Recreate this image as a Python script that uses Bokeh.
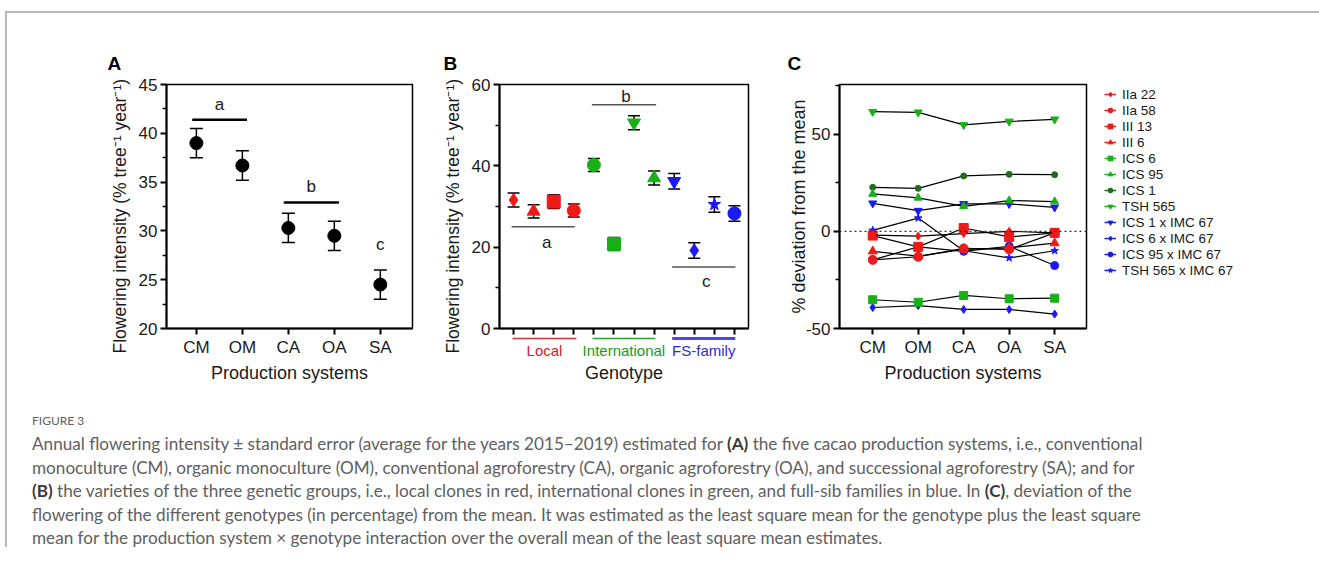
from bokeh.plotting import figure
from bokeh.models import (ColumnDataSource, Whisker, TeeHead, Span, FixedTicker,
                          Range1d, Legend, LegendItem, Div)
from bokeh.layouts import row, column
from bokeh.embed import file_html
from bokeh.resources import INLINE
from bokeh.core.properties import value

# ---------------- data ----------------
# Panel A: production systems
systems = ["CM", "OM", "CA", "OA", "SA"]
system_mean = [39.0, 36.7, 30.3, 29.5, 24.5]
system_se = [1.5, 1.5, 1.5, 1.5, 1.5]
system_letters = ["a", "b", "c"]
system_letter_x = [1.5, 3.5, 5.0]
system_letter_y = [43.0, 34.6, 28.6]
system_bar_x0 = [0.91, 2.90]
system_bar_x1 = [2.10, 4.10]
system_bar_y = [41.4, 32.9]

# Panel B: genotypes
genotypes = ["IIa 22", "III 6", "III 13", "IIa 58",
             "ICS 1", "ICS 6", "TSH 565", "ICS 95",
             "ICS 1 x IMC 67", "ICS 6 x IMC 67", "TSH 565 x IMC 67", "ICS 95 x IMC 67"]
genotype_mean = [31.6, 28.8, 31.2, 29.0, 40.2, 20.8, 50.6, 37.0, 36.2, 19.2, 30.5, 28.3]
genotype_se = [1.7, 1.6, 1.7, 1.6, 1.6, 1.6, 1.7, 1.7, 1.9, 1.9, 1.9, 1.9]
genotype_marker = ["diamond", "triangle", "square", "circle",
                   "circle", "square", "inverted_triangle", "triangle",
                   "inverted_triangle", "diamond", "star", "circle"]
genotype_group = [0, 0, 0, 0, 1, 1, 1, 1, 2, 2, 2, 2]
groups = ["Local", "International", "FS-family"]
group_x0 = [0.95, 4.93, 8.90]
group_x1 = [4.13, 8.06, 12.04]
group_letters = ["a", "b", "c"]
group_letter_x = [2.65, 6.6, 10.6]
group_letter_y = [21.2, 57.0, 11.6]
group_bar_x0 = [0.90, 4.90, 8.90]
group_bar_x1 = [4.05, 8.10, 12.05]
group_bar_y = [25.0, 55.0, 15.1]

# Panel C: % deviation from the mean per production system
dev_IIa_22 = [-2.0, -2.5, -1.2, 0.0, -0.8]
dev_IIa_58 = [-14.7, -13.1, -8.8, -9.3, -0.8]
dev_III_13 = [-2.2, -8.0, 1.7, -2.9, -0.8]
dev_III_6 = [-10.3, -12.8, -9.3, -8.5, -6.1]
dev_ICS_6 = [-35.2, -36.5, -33.0, -34.7, -34.4]
dev_ICS_95 = [19.2, 17.2, 12.8, 15.8, 15.3]
dev_ICS_1 = [22.6, 22.1, 28.5, 29.3, 29.1]
dev_TSH_565 = [61.5, 61.2, 54.7, 56.5, 57.6]
dev_ICS1xIMC67 = [14.4, 10.6, 14.1, 14.1, 12.3]
dev_ICS6xIMC67 = [-39.2, -38.2, -40.2, -40.2, -42.6]
dev_ICS95xIMC67 = [-14.7, -8.0, -10.3, -7.7, -17.6]
dev_TSH565xIMC67 = [0.5, 6.8, -10.0, -13.7, -10.0]

# ---------------- style ----------------
FONT = "Liberation Sans"
INK = "#1a1a1a"
RED, GREEN, BLUE, DKGREEN = "#ee1a1a", "#17b017", "#1a1af2", "#1d6e1d"
group_colors = [RED, GREEN, BLUE]
group_text_colors = ["#cc2229", "#1a9a1a", "#2b2bd0"]
group_line_colors = ["#d9303a", "#2ca02c", "#4a4ae0"]

FH = 244
MBT = 71
MBB = 69


def make_fig(xr, yr, mbl, fw, mbr, letter, letter_offset):
    p = figure(x_range=xr, y_range=yr, frame_width=fw, frame_height=FH,
               min_border_left=mbl, min_border_right=mbr,
               min_border_top=MBT, min_border_bottom=MBB,
               toolbar_location=None, output_backend="svg", tools="",
               title=letter)
    p.title.align = "left"
    p.title.offset = letter_offset
    p.title.standoff = 22
    p.title.text_font = FONT
    p.title.text_font_size = "19px"
    p.title.text_font_style = "bold"
    p.title.text_color = "black"
    p.xgrid.visible = False
    p.ygrid.visible = False
    p.outline_line_color = "black"
    p.outline_line_width = 1.5
    p.background_fill_color = "white"
    p.border_fill_color = "white"
    for ax in p.axis:
        ax.axis_line_width = 2
        ax.axis_line_color = "black"
        ax.major_tick_line_width = 2
        ax.major_tick_out = 6
        ax.major_tick_in = 0
        ax.minor_tick_line_width = 1.5
        ax.minor_tick_out = 4
        ax.minor_tick_in = 0
        ax.major_label_text_font = FONT
        ax.major_label_text_font_size = "17px"
        ax.major_label_text_color = INK
        ax.major_label_standoff = 3
        ax.axis_label_text_font = FONT
        ax.axis_label_text_font_size = "18px"
        ax.axis_label_text_font_style = "normal"
        ax.axis_label_text_color = INK
    for ax in p.yaxis:
        ax.axis_label_text_font_size = "17.5px"
    return p


# trailing no-break spaces nudge the rotated title down, as in the original figure
YLAB = "Flowering intensity (% tree\u207b\u00b9 year\u207b\u00b9)" + "\u00a0" * 4

# ---------------- Panel A ----------------
xa = list(range(1, len(systems) + 1))
pA = make_fig(Range1d(0.35, 5.70), Range1d(20, 45), 159, 246, 8, "A", -59)
pA.xaxis.ticker = FixedTicker(ticks=xa)
pA.xaxis.major_label_overrides = {i: s for i, s in zip(xa, systems)}
pA.yaxis.ticker = FixedTicker(ticks=[20, 25, 30, 35, 40, 45],
                              minor_ticks=[22.5, 27.5, 32.5, 37.5, 42.5])
pA.xaxis.axis_label = "Production systems"
pA.yaxis.axis_label = YLAB
pA.xaxis.axis_label_standoff = 3
pA.yaxis.axis_label_standoff = 6
srcA = ColumnDataSource(dict(x=xa, y=system_mean,
                             lo=[m - s for m, s in zip(system_mean, system_se)],
                             hi=[m + s for m, s in zip(system_mean, system_se)]))
pA.add_layout(Whisker(source=srcA, base="x", lower="lo", upper="hi", line_width=1.5,
                      line_color="black", level="underlay",
                      upper_head=TeeHead(size=13, line_width=1.5, line_color="black"),
                      lower_head=TeeHead(size=13, line_width=1.5, line_color="black")))
pA.scatter("x", "y", source=srcA, marker="circle", size=13, color="black")
pA.segment(x0=system_bar_x0, x1=system_bar_x1, y0=system_bar_y, y1=system_bar_y,
           line_color="black", line_width=2.5)
pA.text(x=system_letter_x, y=system_letter_y, text=system_letters, text_font=value(FONT),
        text_font_size="17px", text_align="center", text_baseline="middle", text_color=INK)

# ---------------- Panel B ----------------
xb = list(range(1, len(genotypes) + 1))
pB = make_fig(Range1d(0.30, 12.70), Range1d(0, 60), 79, 249, 14, "B", -56)
pB.xaxis.ticker = FixedTicker(ticks=xb)
pB.xaxis.major_label_overrides = {i: "" for i in xb}
pB.xaxis.major_label_text_font_size = "0px"
pB.xaxis.major_label_standoff = 0
pB.xaxis.axis_label = "Genotype"
pB.xaxis.axis_label_standoff = 28
pB.yaxis.ticker = FixedTicker(ticks=[0, 20, 40, 60], minor_ticks=[10, 30, 50])
pB.yaxis.axis_label = YLAB
pB.yaxis.axis_label_standoff = 6
srcB = ColumnDataSource(dict(x=xb, y=genotype_mean, marker=genotype_marker,
                             color=[group_colors[g] for g in genotype_group],
                             lo=[m - s for m, s in zip(genotype_mean, genotype_se)],
                             hi=[m + s for m, s in zip(genotype_mean, genotype_se)]))
pB.add_layout(Whisker(source=srcB, base="x", lower="lo", upper="hi", line_width=1.5,
                      line_color="black", level="underlay",
                      upper_head=TeeHead(size=12, line_width=1.5, line_color="black"),
                      lower_head=TeeHead(size=12, line_width=1.5, line_color="black")))
pB.scatter("x", "y", source=srcB, marker="marker", size=13, color="color")
pB.segment(x0=group_bar_x0, x1=group_bar_x1, y0=group_bar_y, y1=group_bar_y,
           line_color="#555555", line_width=1.5)
pB.text(x=group_letter_x, y=group_letter_y, text=group_letters, text_font=value(FONT),
        text_font_size="17px", text_align="center", text_baseline="middle", text_color=INK)

# transparent strip laid over the area under panel B's axis, sharing its x scale:
# coloured group underlines and group names
pG = figure(x_range=pB.x_range, y_range=Range1d(-26, 0), frame_width=249, frame_height=26,
            min_border_left=79, min_border_right=14, min_border_top=0, min_border_bottom=0,
            toolbar_location=None, output_backend="svg", tools="",
            x_axis_location=None, y_axis_location=None,
            margin=(-(MBB - 6), 0, 0, 0))
pG.outline_line_color = None
pG.xgrid.visible = False
pG.ygrid.visible = False
pG.background_fill_color = None
pG.border_fill_color = None
pG.segment(x0=group_x0, x1=group_x1, y0=[-4] * 3, y1=[-4] * 3,
           line_color=group_line_colors, line_width=[1.6, 1.6, 3.0])
pG.text(x=[(a + b) / 2 for a, b in zip(group_x0, group_x1)], y=[-16] * 3, text=groups,
        text_font=value(FONT), text_font_size="15px", text_color=group_text_colors,
        text_align="center", text_baseline="middle")

# ---------------- Panel C ----------------
xc = list(range(1, len(systems) + 1))
pC = make_fig(Range1d(0.27, 5.70), Range1d(-50, 75.5), 77, 247, 220, "C", -52)
pC.xaxis.ticker = FixedTicker(ticks=xc)
pC.xaxis.major_label_overrides = {i: s for i, s in zip(xc, systems)}
pC.yaxis.ticker = FixedTicker(ticks=[-50, 0, 50], minor_ticks=[-25, 25, 75])
pC.yaxis.major_label_overrides = {-50: "-50", 0: "0", 50: "50"}
pC.xaxis.axis_label = "Production systems"
pC.yaxis.axis_label = "% deviation from the mean"
pC.yaxis.axis_label_text_font_size = "18px"
pC.xaxis.axis_label_standoff = 3
pC.yaxis.axis_label_standoff = -6
pC.add_layout(Span(location=0, dimension="width", line_color="#333333",
                   line_dash="2 3", line_width=1.2))

series_c = [
    ("IIa 22", dev_IIa_22, "diamond", RED, 8),
    ("IIa 58", dev_IIa_58, "circle", RED, 9),
    ("III 13", dev_III_13, "square", RED, 9),
    ("III 6", dev_III_6, "triangle", RED, 9),
    ("ICS 6", dev_ICS_6, "square", GREEN, 8),
    ("ICS 95", dev_ICS_95, "triangle", GREEN, 8),
    ("ICS 1", dev_ICS_1, "circle", DKGREEN, 6),
    ("TSH 565", dev_TSH_565, "inverted_triangle", GREEN, 8),
    ("ICS 1 x IMC 67", dev_ICS1xIMC67, "inverted_triangle", BLUE, 8),
    ("ICS 6 x IMC 67", dev_ICS6xIMC67, "diamond", BLUE, 8),
    ("ICS 95 x IMC 67", dev_ICS95xIMC67, "circle", BLUE, 8),
    ("TSH 565 x IMC 67", dev_TSH565xIMC67, "star", BLUE, 8),
]
items = {}
for name, ys, mk, col, sz in reversed(series_c):
    pC.line(x=xc, y=ys, line_color="black", line_width=1.2)
    sr = pC.scatter(x=xc, y=ys, marker=mk, size=sz, color=col)
    proxy = pC.line(x=[float("nan")], y=[float("nan")], line_color=col, line_width=1.5)
    items[name] = LegendItem(label=name, renderers=[proxy, sr])
legend = Legend(items=[items[s[0]] for s in series_c], location=(18, 50),
                label_text_font=FONT, label_text_font_size="13.5px", label_text_color=INK,
                glyph_width=12, glyph_height=16, label_height=16, label_standoff=6,
                spacing=0, padding=0, margin=0, border_line_color=None,
                background_fill_alpha=0)
pC.add_layout(legend, "right")

# ---------------- caption ----------------
cap_lines = [
    "Annual flowering intensity \u00b1 standard error (average for the years 2015\u20132019) estimated for <b>(A)</b> the five cacao production systems, i.e., conventional",
    "monoculture (CM), organic monoculture (OM), conventional agroforestry (CA), organic agroforestry (OA), and successional agroforestry (SA); and for",
    "<b>(B)</b> the varieties of the three genetic groups, i.e., local clones in red, international clones in green, and full-sib families in blue. In <b>(C)</b>, deviation of the",
    "flowering of the different genotypes (in percentage) from the mean. It was estimated as the least square mean for the genotype plus the least square",
    "mean for the production system \u00d7 genotype interaction over the overall mean of the least square mean estimates.",
]
cap_html = (
    '<div style="font-family: Lato, \'Open Sans\', sans-serif; color:#606060; padding-left:25px;">'
    '<div style="font-size:12px; line-height:20px; margin-top:14px;">FIGURE 3</div>'
    '<div style="font-size:17.15px; line-height:23.5px; margin-top:1px; white-space:nowrap;">'
    + "<br>".join(cap_lines).replace("<b>", '<b style="color:#3a3a3a;">') +
    '</div></div>'
)
caption = Div(text=cap_html, width=1290, height=150, margin=0)

layout = column(row(pA, column(pB, pG, spacing=0), pC, spacing=0), caption, spacing=0,
                margin=(11, 0, 0, 5),
                styles={"border-left": "2px solid #b8b8b8", "border-top": "2px solid #b8b8b8"})

open("out.html", "w").write(file_html(layout, INLINE))
